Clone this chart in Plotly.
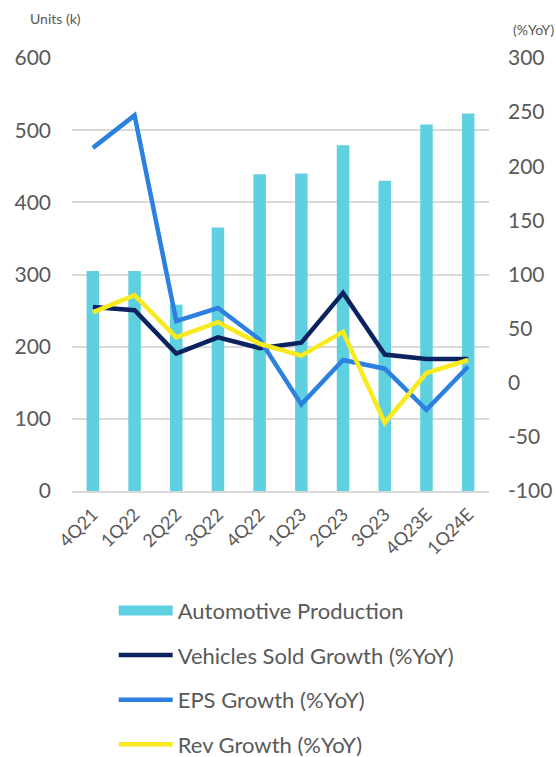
import plotly.graph_objects as go

quarters = ["4Q21", "1Q22", "2Q22", "3Q22", "4Q22", "1Q23", "2Q23", "3Q23", "4Q23E", "1Q24E"]
production = [305, 305, 258, 365, 439, 440, 479, 430, 508, 523]
vehicles_growth = [70, 67, 27, 42, 32, 37, 83, 26, 22, 22]
eps_growth = [217, 247, 57, 69, 40, -20, 21, 13, -25, 15]
rev_growth = [65, 81, 42, 56, 36, 25, 47, -37, 9, 21]

left_ticks = [0, 100, 200, 300, 400, 500, 600]
right_ticks = [-100, -50, 0, 50, 100, 150, 200, 250, 300]
right_tick_text = ["-100", "-50", "0", "50", "100", "150", "200", "250", "300"]

FONT = "Lato"
GRAY = "#595959"
BAR_COLOR = "#5FD0DF"

fig = go.Figure()
fig.add_trace(go.Bar(x=quarters, y=production, name="Automotive Production",
                     marker=dict(color=BAR_COLOR, line=dict(width=0)),
                     width=0.3, yaxis="y", showlegend=False))
# legend-only swatch for the bar series (wide rectangle)
fig.add_trace(go.Scatter(x=[quarters[0]], y=[None], name="Automotive Production",
                         mode="lines", line=dict(color=BAR_COLOR, width=16),
                         yaxis="y", legendgroup="a"))
fig.add_trace(go.Scatter(x=quarters, y=vehicles_growth, name="Vehicles Sold Growth (%YoY)",
                         mode="lines", line=dict(color="#0B2260", width=4.5),
                         yaxis="y2", legendgroup="b"))
fig.add_trace(go.Scatter(x=quarters, y=eps_growth, name="EPS Growth (%YoY)",
                         mode="lines", line=dict(color="#2B80E0", width=4.5),
                         yaxis="y2", legendgroup="c"))
fig.add_trace(go.Scatter(x=quarters, y=rev_growth, name="Rev Growth (%YoY)",
                         mode="lines", line=dict(color="#F8EA1E", width=4.5),
                         yaxis="y2", legendgroup="d"))

fig.update_layout(
    width=556, height=757,
    margin=dict(l=72, r=67, t=58, b=266, autoexpand=False),
    paper_bgcolor="white", plot_bgcolor="white",
    font=dict(family=FONT, size=20, color=GRAY),
    bargap=0.7,
    xaxis=dict(tickangle=-45, showgrid=False, showline=True, linecolor="#D9D9D9",
               linewidth=2, ticks="", tickfont=dict(size=18, color=GRAY),
               ticklabelstandoff=4, automargin=False),
    yaxis=dict(range=[0, 600], tickvals=left_ticks, showgrid=True,
               gridcolor="#D9D9D9", gridwidth=1.5, zeroline=False,
               showline=False, ticks="", ticklabelstandoff=20, automargin=False,
               tickfont=dict(size=21)),
    yaxis2=dict(range=[-100, 300], tickvals=right_ticks, ticktext=right_tick_text,
                overlaying="y", side="right", showgrid=False, zeroline=False,
                showline=False, ticks="", ticklabelstandoff=18, automargin=False,
                tickfont=dict(size=21)),
    legend=dict(orientation="v", x=0.1, xanchor="left", y=-0.228, yanchor="top",
                font=dict(size=22, color=GRAY), tracegroupgap=13,
                itemwidth=54, bgcolor="rgba(0,0,0,0)"),
    showlegend=True,
)

fig.add_annotation(text="Units (k)", xref="paper", yref="paper",
                   x=-0.04, y=1.0, yshift=40, xanchor="center", yanchor="middle",
                   showarrow=False, font=dict(size=14, color=GRAY, family=FONT))
fig.add_annotation(text="(%YoY)", xref="paper", yref="paper",
                   x=1.0, xshift=22, y=1.0, yshift=29, xanchor="left", yanchor="middle",
                   showarrow=False, font=dict(size=14, color=GRAY, family=FONT))

fig.write_html("out.html", config={"displayModeBar": False},
               post_script="document.body.style.margin='0';document.body.style.overflow='hidden';")
